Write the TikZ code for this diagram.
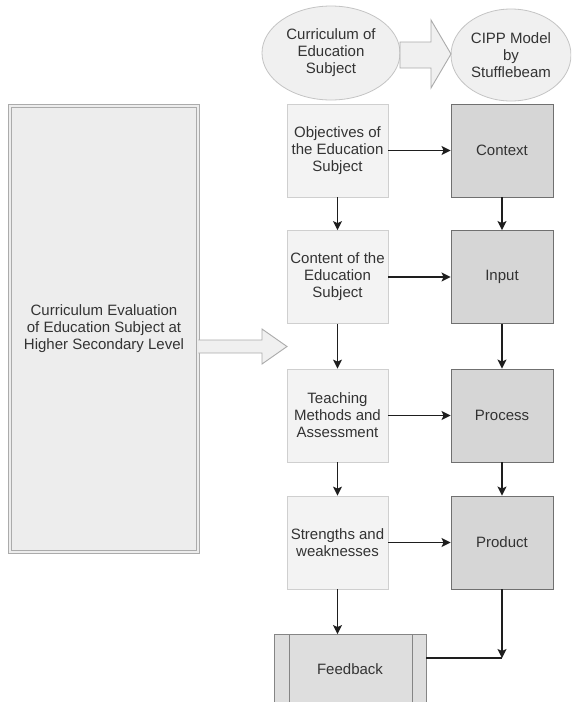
\documentclass[tikz,border=0pt]{standalone}
\usepackage{fontspec}
\setmainfont{Liberation Sans}
\usetikzlibrary{arrows.meta,shapes.geometric}
\definecolor{txt}{HTML}{333333}
\definecolor{lfill}{HTML}{F3F3F3}
\definecolor{ldraw}{HTML}{CFCFCF}
\definecolor{rfill}{HTML}{D6D6D6}
\definecolor{rdraw}{HTML}{707070}
\definecolor{efill}{HTML}{F0F0F0}
\definecolor{edraw}{HTML}{C4C4C4}
\definecolor{bfill}{HTML}{EDEDED}
\definecolor{bdraw}{HTML}{ABABAB}
\definecolor{ffill}{HTML}{DEDEDE}
\definecolor{fdraw}{HTML}{858585}
\definecolor{arr}{HTML}{1E1E1E}
\tikzset{
  lbl/.style={font=\fontsize{15}{17}\selectfont, text=txt, align=center, inner sep=0pt},
  lbox/.style={lbl, draw=ldraw, fill=lfill, line width=0.8pt, minimum width=101pt, minimum height=93pt},
  rbox/.style={lbl, draw=rdraw, fill=rfill, line width=0.9pt, minimum width=102pt, minimum height=93pt},
  oval/.style={lbl, ellipse, draw=edraw, fill=efill, line width=0.8pt},
  conn/.style={draw=arr, line width=1.2pt, -{Stealth[length=9pt,width=9pt,inset=2pt]}},
  plainconn/.style={draw=arr, line width=1.2pt},
  blockarrow/.style={draw=bdraw, fill=efill, line width=0.9pt, line join=miter}
}
\begin{document}
\begin{tikzpicture}[x=1pt,y=-1pt]
\path[use as bounding box, fill=white] (0,0) rectangle (571,702);
\clip (0,0) rectangle (571,702);

% top ellipses
\node[oval, minimum width=138pt, minimum height=94pt] (cur) at (331,53) {Curriculum of\\Education\\Subject};
\node[oval, minimum width=120pt, minimum height=92pt] (cipp) at (511,55) {CIPP Model\\by\\Stufflebeam};
% block arrow between ellipses
\draw[blockarrow] (400,42) -- (431,42) -- (431,20) -- (451,54) -- (431,88) -- (431,68) -- (400,68) -- cycle;

% big left box
\node[lbl, draw=bdraw, fill=bfill, double=bfill, double distance=1.6pt, line width=0.8pt,
      minimum width=188pt, minimum height=446pt] (eval) at (104,329)
      {Curriculum Evaluation\\of Education Subject at\\Higher Secondary Level};
% big block arrow
\draw[blockarrow] (eval.east |- 0,340) -- (262,340) -- (262,329) -- (287,346.5) -- (262,364) -- (262,353) -- (eval.east |- 0,353);

% left column
\node[lbox] (obj) at (337.5,150.5) {Objectives of\\the Education\\Subject};
\node[lbox] (con) at (337.5,277) {Content of the\\Education\\Subject};
\node[lbox] (tea) at (337.5,415.5) {Teaching\\Methods and\\Assessment};
\node[lbox] (str) at (337.5,542.5) {Strengths and\\weaknesses};

% right column
\node[rbox] (ctx) at (502,150.5) {Context};
\node[rbox] (inp) at (502,277) {Input};
\node[rbox] (pro) at (502,415.5) {Process};
\node[rbox] (prd) at (502,542.5) {Product};

% feedback
\node[lbl, draw=fdraw, fill=ffill, line width=0.9pt, minimum width=152pt, minimum height=70pt] (fb) at (350,669.5) {Feedback};
\draw[fdraw, line width=0.9pt] ([xshift=16pt]fb.north west) -- ([xshift=16pt]fb.south west);
\draw[fdraw, line width=0.9pt] ([xshift=-14pt]fb.north east) -- ([xshift=-14pt]fb.south east);

% connectors
\draw[conn] (obj) -- (ctx);
\draw[conn] (con) -- (inp);
\draw[conn] (tea) -- (pro);
\draw[conn] (str) -- (prd);
\draw[conn] (obj) -- (con);
\draw[conn] (con) -- (tea);
\draw[conn] (tea) -- (str);
\draw[conn] (str.south) -- (str.south |- fb.north);
\draw[conn] (ctx) -- (inp);
\draw[conn] (inp) -- (pro);
\draw[conn] (pro) -- (prd);
\coordinate (join) at (prd.south |- 0,658);
\draw[conn] (prd.south) -- (join);
\draw[plainconn] (fb.east |- join) -- (join);
\end{tikzpicture}
\end{document}
